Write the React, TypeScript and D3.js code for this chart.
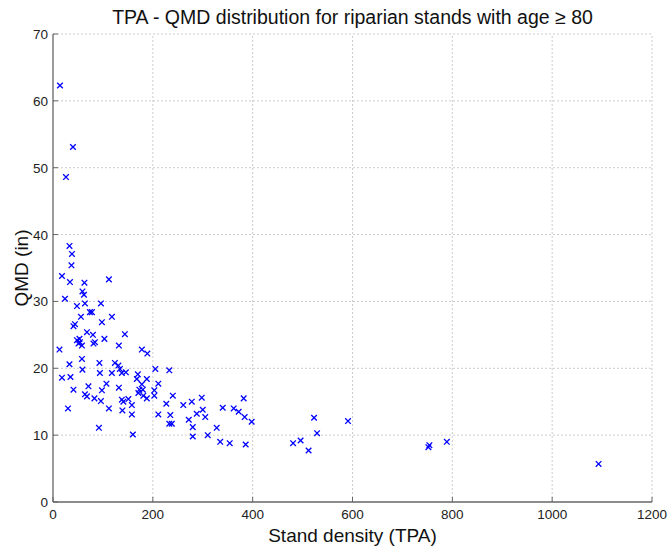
import React from "react";
import * as d3 from "d3";

const tpa: number[] = [
  14, 40, 26,
  33, 38, 37, 18, 34, 63, 112, 24, 59, 62, 64, 48, 96, 74, 78, 56, 118, 98, 44, 41,
  68, 80, 48, 54, 51, 53, 58, 81, 84, 103, 144, 132, 13, 33, 18, 35, 41, 30, 58, 59, 71, 64, 68, 83, 96,
  93, 94, 98, 107, 112, 92, 118, 124, 131, 134, 138, 146, 132, 138, 141, 151, 139, 158, 158, 160,
  178, 189, 170, 168, 188, 178, 173, 180, 171, 181, 188, 205, 211, 203, 203, 211, 233, 227, 240, 235,
  233, 238, 261, 272, 278, 280, 298, 300, 305, 288, 280, 310, 328, 340, 335, 354, 362, 372, 382, 384,
  398, 386, 481, 496, 512, 523, 529, 591, 752, 754, 789, 1093,
];
const qmd: number[] = [
  62.3, 53.1, 48.6,
  38.3, 37.1, 35.4, 33.8, 32.9, 32.8, 33.3, 30.4, 31.5, 31.0, 29.7, 29.3, 29.7, 28.4, 28.4, 27.7, 27.7, 26.9, 26.6, 26.3,
  25.4, 25.0, 24.2, 23.9, 23.7, 24.4, 23.4, 23.7, 23.9, 24.4, 25.1, 23.4, 22.8, 20.6, 18.6, 18.7, 16.8, 14.0, 21.4, 19.8, 17.3, 16.1, 15.8, 15.5, 15.1,
  20.8, 19.3, 16.7, 17.7, 14.0, 11.1, 19.3, 20.8, 20.4, 19.9, 19.3, 19.4, 17.1, 15.3, 15.0, 15.4, 13.7, 14.5, 13.1, 10.1,
  22.8, 22.2, 19.1, 18.4, 18.4, 17.6, 16.8, 16.8, 16.3, 15.9, 15.5, 19.9, 17.7, 16.7, 15.9, 13.1, 19.7, 14.7, 15.9, 13.0,
  11.7, 11.7, 14.5, 12.3, 15.0, 11.2, 15.6, 13.8, 12.7, 13.2, 9.8, 10.0, 11.1, 14.1, 9.0, 8.8, 14.0, 13.5, 15.5, 12.7,
  12.0, 8.6, 8.8, 9.2, 7.7, 12.6, 10.3, 12.1, 8.2, 8.5, 9.0, 5.7,
];
const xTicks: number[] = [0, 200, 400, 600, 800, 1000, 1200];
const yTicks: number[] = [0, 10, 20, 30, 40, 50, 60, 70];
const title = "TPA - QMD distribution for riparian stands with age \u2265 80";
const xLabel = "Stand density (TPA)";
const yLabel = "QMD (in)";

export default function App() {
  const W = 668, H = 550;
  const L = 53, R = 652, T = 34, B = 502;
  const x = d3.scaleLinear().domain([0, 1200]).range([L, R]);
  const y = d3.scaleLinear().domain([0, 70]).range([B, T]);
  const font = "Arial, 'Liberation Sans', sans-serif";
  const s = 2.8;
  return (
    <svg width={W} height={H} style={{ position: "absolute", left: 0, top: 0, background: "#fff" }}>
      <rect width={W} height={H} fill="#fff" />
      {xTicks.slice(1).map((t) => (
        <line key={"gx" + t} x1={x(t)} x2={x(t)} y1={B} y2={T} stroke="#cccccc" strokeWidth={1} strokeDasharray="2,2" />
      ))}
      {yTicks.slice(1).map((t) => (
        <line key={"gy" + t} x1={L} x2={R} y1={y(t)} y2={y(t)} stroke="#cccccc" strokeWidth={1} strokeDasharray="2,2" />
      ))}
      <line x1={L} x2={L} y1={T} y2={B} stroke="#666" strokeWidth={1.3} />
      <line x1={L} x2={R} y1={B} y2={B} stroke="#666" strokeWidth={1.3} />
      {xTicks.map((t) => (
        <g key={"tx" + t}>
          <line x1={x(t)} x2={x(t)} y1={B} y2={B - 5} stroke="#666" />
          <text x={x(t)} y={B + 17} textAnchor="middle" fontSize={13.5} fontFamily={font} fill="#222">{t}</text>
        </g>
      ))}
      {yTicks.map((t) => (
        <g key={"ty" + t}>
          <line x1={L} x2={L + 5} y1={y(t)} y2={y(t)} stroke="#666" />
          <text x={L - 5} y={y(t) + 5} textAnchor="end" fontSize={13.5} fontFamily={font} fill="#222">{t}</text>
        </g>
      ))}
      {tpa.map((v, i) => {
        const cx = x(v), cy = y(qmd[i]);
        return (
          <path key={"p" + i} d={`M${cx - s},${cy - s}L${cx + s},${cy + s}M${cx - s},${cy + s}L${cx + s},${cy - s}`} stroke="#0000ff" strokeWidth={1.3} fill="none" />
        );
      })}
      <text x={(L + R) / 2} y={24} textAnchor="middle" fontSize={19.5} fontFamily={font} fill="#111">{title}</text>
      <text x={(L + R) / 2} y={542} textAnchor="middle" fontSize={19} fontFamily={font} fill="#111">{xLabel}</text>
      <text transform={`translate(28,${(T + B) / 2}) rotate(-90)`} textAnchor="middle" fontSize={19} fontFamily={font} fill="#111">{yLabel}</text>
    </svg>
  );
}
